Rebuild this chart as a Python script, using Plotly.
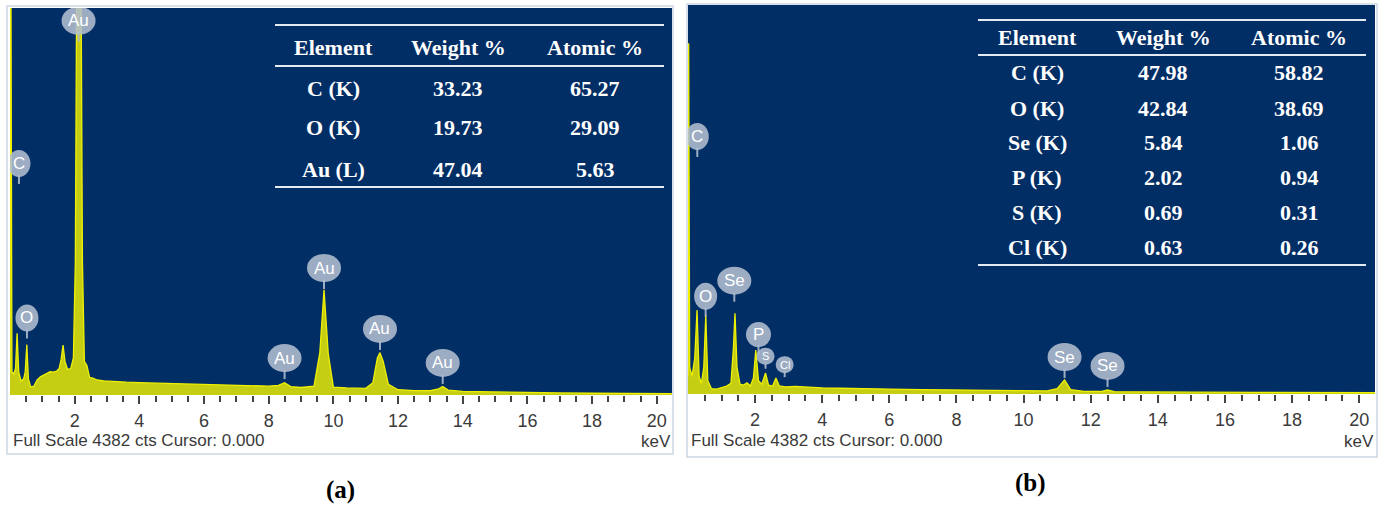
import plotly.graph_objects as go

# ---------------- data ----------------
# Spectrum (a): energy (keV) and counts
energy_a = [0.00, 0.02, 0.06, 0.12, 0.17, 0.22, 0.27, 0.34, 0.42, 0.47, 0.52, 0.57,
            0.64, 0.74, 0.84, 0.94, 1.04, 1.14, 1.24, 1.34, 1.44, 1.52, 1.58, 1.64,
            1.70, 1.78, 1.88, 1.96, 2.02, 2.08, 2.18, 2.24, 2.30, 2.38, 2.46, 2.56,
            2.70, 2.90, 3.20, 3.60, 4.00, 4.50, 5.00, 5.50, 6.00, 6.50, 7.00, 7.50,
            8.00, 8.30, 8.49, 8.68, 9.00, 9.40, 9.58, 9.71, 9.84, 10.00, 10.40, 11.00,
            11.22, 11.36, 11.44, 11.54, 11.70, 12.00, 12.50, 13.00, 13.25, 13.38, 13.55,
            14.00, 15.00, 16.00, 17.00, 18.00, 19.00, 20.00, 20.47]
counts_a = [250, 6000, 260, 240, 300, 700, 260, 160, 180, 260, 570, 180,
            90, 100, 170, 205, 225, 250, 265, 260, 270, 300, 400, 566,
            380, 290, 300, 420, 1500, 6000, 6000, 1500, 380, 330, 200, 190,
            170, 160, 150, 145, 140, 135, 130, 125, 120, 115, 110, 105,
            100, 110, 140, 95, 85, 100, 480, 1190, 470, 90, 80, 75,
            140, 420, 480, 380, 120, 60, 50, 50, 70, 95, 55,
            40, 32, 26, 23, 20, 18, 16, 15]

# Spectrum (b): energy (keV) and counts
energy_b = [0.00, 0.02, 0.05, 0.12, 0.20, 0.27, 0.33, 0.40, 0.47, 0.53, 0.59, 0.70,
            0.85, 1.00, 1.15, 1.28, 1.35, 1.40, 1.46, 1.55, 1.65, 1.76, 1.86, 1.95,
            2.02, 2.10, 2.20, 2.31, 2.40, 2.52, 2.62, 2.72, 2.90, 3.20, 3.60, 4.00,
            4.50, 5.00, 6.00, 7.00, 8.00, 9.00, 10.00, 10.70, 11.00, 11.22, 11.40,
            11.80, 12.30, 12.50, 12.70, 13.50, 15.00, 17.00, 20.47]
counts_b = [200, 3950, 300, 200, 400, 945, 200, 120, 300, 890, 150, 60,
            55, 70, 90, 120, 500, 910, 300, 110, 100, 125, 90, 180,
            495, 150, 110, 236, 100, 90, 180, 90, 80, 85, 75, 70,
            65, 60, 55, 50, 45, 40, 35, 35, 60, 158, 50,
            30, 28, 45, 26, 22, 20, 18, 15]

FULL_SCALE = 4382

# Peak labels: element, energy (keV), count at the label pin
peaks_a_el = ["C", "O", "Au", "Au", "Au", "Au", "Au"]
peaks_a_e = [0.277, 0.525, 2.12, 8.49, 9.71, 11.44, 13.38]
peaks_a_c = [2390, 640, 4000, 180, 1200, 510, 125]

peaks_b_el = ["C", "O", "Se", "P", "S", "Cl", "Se", "Se"]
peaks_b_e = [0.277, 0.525, 1.38, 2.10, 2.31, 2.88, 11.22, 12.50]
peaks_b_c = [2670, 870, 1040, 450, 285, 190, 180, 80]

# Composition tables
tab_a_el = ["C (K)", "O (K)", "Au (L)"]
tab_a_wt = [33.23, 19.73, 47.04]
tab_a_at = [65.27, 29.09, 5.63]

tab_b_el = ["C (K)", "O (K)", "Se (K)", "P (K)", "S (K)", "Cl (K)"]
tab_b_wt = [47.98, 42.84, 5.84, 2.02, 0.69, 0.63]
tab_b_at = [58.82, 38.69, 1.06, 0.94, 0.31, 0.26]

header = ["Element", "Weight %", "Atomic %"]
tick_values = [2, 4, 6, 8, 10, 12, 14, 16, 18, 20]

# ---------------- styling ----------------
W, H = 1387, 506
NAVY = "#022e66"
FILL = "#c6ce14"
LINE = "#eef000"
BUBBLE = "rgba(178,190,208,0.88)"
GREY = "#3a3a3a"
SANS = "Liberation Sans, Arial, sans-serif"
SERIF = "Liberation Serif, Times New Roman, serif"


def px(x):
    return x / W


def py(y):
    return 1 - y / H


def paper_text(x, y, text, font, xanchor="center"):
    return dict(x=px(x), y=py(y), xref="paper", yref="paper", text=text,
                showarrow=False, xanchor=xanchor, yanchor="middle", font=font)


fig = go.Figure()

# panel geometry in pixels: plot-area left, right, top, bottom
panels = [
    dict(ax="", box=(10, 672, 8, 395), frame=(7, 673, 6, 454),
         e=energy_a, c=counts_a, pe=peaks_a_e, pc=peaks_a_c, pl=peaks_a_el,
         tab=(tab_a_el, tab_a_wt, tab_a_at), cols=(333, 458, 595),
         head_y=47, row_y=[88, 128, 169], lines_y=[25, 66, 187], lines_x=(275, 664),
         tag="(a)", tag_xy=(340, 490)),
    dict(ax="2", box=(688, 1375, 5, 394), frame=(687, 1377, 4, 457),
         e=energy_b, c=counts_b, pe=peaks_b_e, pc=peaks_b_c, pl=peaks_b_el,
         tab=(tab_b_el, tab_b_wt, tab_b_at), cols=(1037, 1163, 1299),
         head_y=37, row_y=[72, 108, 143, 178, 212, 247], lines_y=[20, 55, 265],
         lines_x=(978, 1366), tag="(b)", tag_xy=(1030, 483)),
]

shapes = []
annotations = []
layout_axes = {}

minor_vals = [v / 2 for v in range(1, 41) if v % 4 != 0]
table_font = dict(family=SERIF, size=22, color="white")
foot_font = dict(family=SANS, size=17, color=GREY)

for p in panels:
    xa, ya = "x" + p["ax"], "y" + p["ax"]
    l, r, t, b = p["box"]
    layout_axes["xaxis" + p["ax"]] = dict(
        domain=[px(l), px(r)], range=[0, 20.47], anchor=ya,
        showgrid=False, zeroline=False, showline=False,
        tickmode="array", tickvals=tick_values, ticks="outside", ticklen=8,
        tickwidth=1.5, tickcolor="#444", ticklabelstandoff=1,
        tickfont=dict(family=SANS, size=18, color=GREY),
        minor=dict(tickmode="array", tickvals=minor_vals, ticks="outside",
                   ticklen=6, tickwidth=1.5, tickcolor="#444"),
        fixedrange=True,
    )
    layout_axes["yaxis" + p["ax"]] = dict(
        domain=[py(b), py(t)], range=[0, FULL_SCALE], anchor=xa,
        showgrid=False, zeroline=False, showline=False, showticklabels=False,
        ticks="", fixedrange=True,
    )
    # navy plot area
    shapes.append(dict(type="rect", xref=xa + " domain", yref=ya + " domain",
                       x0=0, x1=1, y0=0, y1=1, fillcolor=NAVY, line_width=0,
                       layer="below"))
    # spectrum
    fig.add_trace(go.Scatter(x=p["e"], y=p["c"], xaxis=xa, yaxis=ya, mode="lines",
                             fill="tozeroy", fillcolor=FILL,
                             line=dict(color=LINE, width=1.3),
                             showlegend=False, hoverinfo="skip"))
    # peak bubbles
    for el, e, c in zip(p["pl"], p["pe"], p["pc"]):
        small = el in ("S", "Cl")
        if small:
            w, h, pin = 18, 17, 4
        elif el == "P":
            w, h, pin = 25, 25, 7
        elif len(el) == 1:
            w, h, pin = 23, 27, 7
        else:
            w, h, pin = 34, 28, 7
        shapes.append(dict(type="line", xref=xa, yref=ya, xsizemode="pixel",
                           ysizemode="pixel", xanchor=e, yanchor=c,
                           x0=0, x1=0, y0=0, y1=pin + 2,
                           line=dict(color=BUBBLE, width=2)))
        shapes.append(dict(type="circle", xref=xa, yref=ya, xsizemode="pixel",
                           ysizemode="pixel", xanchor=e, yanchor=c,
                           x0=-w / 2, x1=w / 2, y0=pin, y1=pin + h,
                           fillcolor=BUBBLE, line_width=0))
        annotations.append(dict(x=e, y=c, xref=xa, yref=ya, text=el,
                                showarrow=False, yshift=pin + h / 2,
                                xanchor="center", yanchor="middle",
                                font=dict(family=SANS, size=11 if small else 17,
                                          color="white")))
    # table
    els, wts, ats = p["tab"]
    for txt, cx in zip(header, p["cols"]):
        annotations.append(paper_text(cx, p["head_y"], "<b>%s</b>" % txt, table_font))
    for ry, el, wt, at in zip(p["row_y"], els, wts, ats):
        for txt, cx in zip((el, "%.2f" % wt, "%.2f" % at), p["cols"]):
            annotations.append(paper_text(cx, ry, "<b>%s</b>" % txt, table_font))
    x0, x1 = p["lines_x"]
    for ly in p["lines_y"]:
        shapes.append(dict(type="line", xref="paper", yref="paper",
                           x0=px(x0), x1=px(x1), y0=py(ly), y1=py(ly),
                           line=dict(color="#e4eaf2", width=2)))
    # frame around panel
    fl, fr, ft, fb = p["frame"]
    shapes.append(dict(type="rect", xref="paper", yref="paper",
                       x0=px(fl), x1=px(fr), y0=py(fb), y1=py(ft),
                       line=dict(color="#ccd6e2", width=1.5), fillcolor="rgba(0,0,0,0)"))
    # footer texts
    annotations.append(paper_text(l + 1, 440, "Full Scale %d cts Cursor: 0.000" % FULL_SCALE,
                                  foot_font, xanchor="left"))
    annotations.append(paper_text(r + 1, 441, "keV", foot_font, xanchor="right"))
    annotations.append(paper_text(p["tag_xy"][0], p["tag_xy"][1], "<b>%s</b>" % p["tag"],
                                  dict(family=SERIF, size=25, color="black")))

fig.update_layout(
    width=W, height=H, margin=dict(l=0, r=0, t=0, b=0),
    paper_bgcolor="white", plot_bgcolor="rgba(0,0,0,0)",
    shapes=shapes, annotations=annotations, showlegend=False,
    **layout_axes,
)

fig.write_html("out.html")
